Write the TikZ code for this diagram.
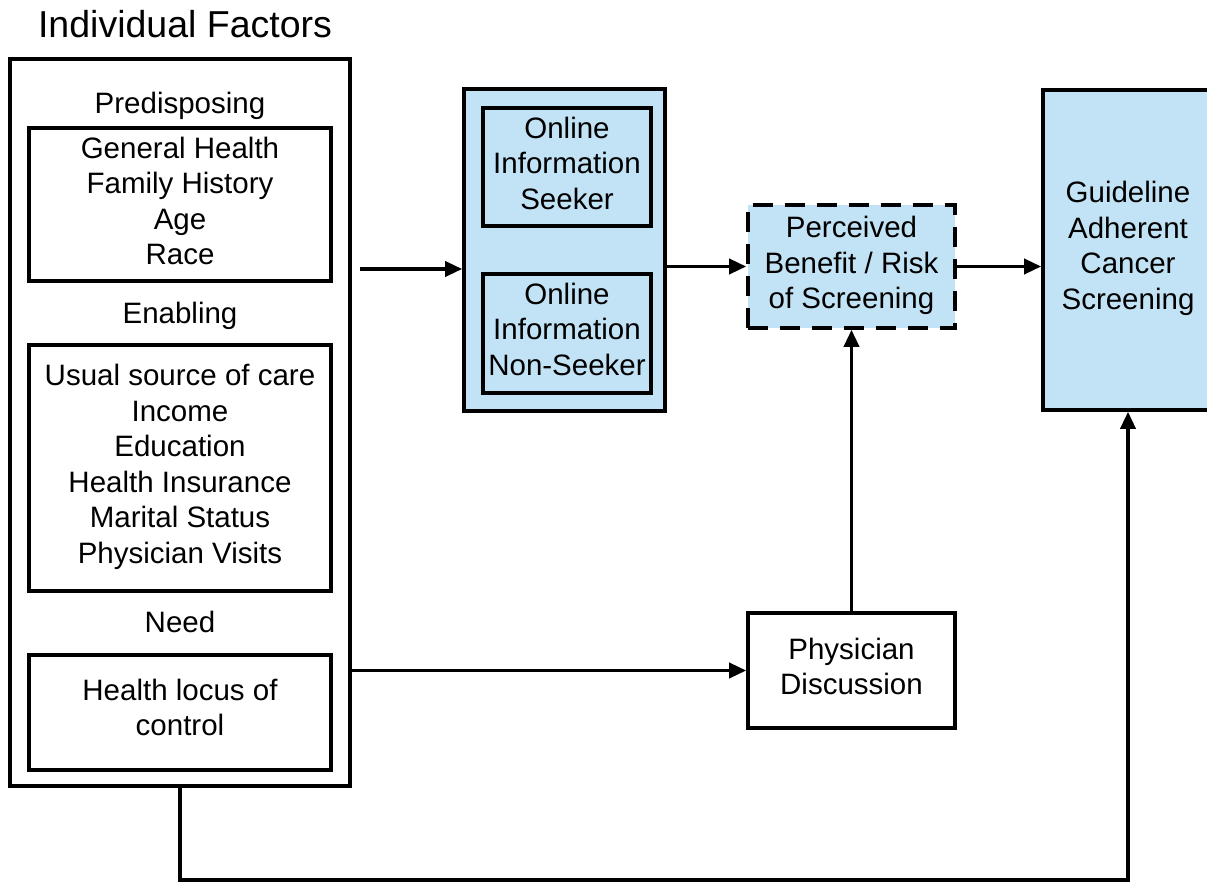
\documentclass[tikz,border=0pt]{standalone}
\usepackage{fontspec}
\setmainfont{Liberation Sans}
\usetikzlibrary{arrows.meta}
\definecolor{boxblue}{RGB}{194,227,245}
\begin{document}
\begin{tikzpicture}[x=1pt,y=-1pt,
  every node/.style={font=\fontsize{29.5pt}{35.5pt}\selectfont, align=center, inner sep=0pt},
  every label/.style={font=\fontsize{29.5pt}{35.5pt}\selectfont, align=center, inner sep=0pt},
  box/.style={draw, line width=3.6pt},
  bluebox/.style={box, fill=boxblue},
  lbl/.style={anchor=base},
  conn/.style={line width=3.6pt, -{Triangle[length=17pt,width=15pt]}}]
\useasboundingbox (0,0) rectangle (1207,882);
% title
\node[lbl, font=\fontsize{37.5pt}{45pt}\selectfont] (title) at (185,38) {Individual Factors};
% outer box
\node[box, minimum width=340pt, minimum height=727pt] (indiv) at (180,422.5) {};
\node[lbl] (pre) at (180,113.5) {Predisposing};
\node[box, minimum width=302pt, minimum height=153pt,
  label={[yshift=3.5pt]center:General Health\\Family History\\Age\\Race}] (b1) at (180,204.5) {};
\node[lbl] (ena) at (180,323.5) {Enabling};
\node[box, minimum width=302pt, minimum height=246pt,
  label={[yshift=1pt]center:Usual source of care\\Income\\Education\\Health Insurance\\Marital Status\\Physician Visits}] (b2) at (180,468) {};
\node[lbl] (need) at (180,632.5) {Need};
\node[box, minimum width=302pt, minimum height=115pt,
  label={[yshift=5pt]center:Health locus of\\control}] (b3) at (180,712.5) {};
% online info
\node[bluebox, minimum width=201pt, minimum height=322pt] (blue) at (564.5,250) {};
\node[bluebox, minimum width=168pt, minimum height=118pt,
  label={[yshift=4pt]center:Online\\Information\\Seeker}] (seek) at (567,167) {};
\node[bluebox, minimum width=168pt, minimum height=119pt,
  label={[yshift=4.5pt]center:Online\\Information\\Non-Seeker}] (nonseek) at (567,333.5) {};
% perceived
\node[bluebox, dash pattern=on 20pt off 12pt, minimum width=207pt, minimum height=123pt,
  label={[yshift=1pt]center:Perceived\\Benefit / Risk\\of Screening}] (perc) at (851.5,266.5) {};
% guideline
\node[bluebox, minimum width=170pt, minimum height=320pt,
  label={[yshift=1.5pt]center:Guideline\\Adherent\\Cancer\\Screening}] (guide) at (1128,250) {};
% physician
\node[box, minimum width=207pt, minimum height=115pt,
  label={[yshift=4pt]center:Physician\\Discussion}] (phys) at (851.5,670.5) {};
% connectors
\coordinate (a1s) at (360,269);
\draw[conn] (a1s) -- (a1s -| blue.west);
\draw[conn] (blue.east |- perc.west) -- (perc.west);
\draw[conn] (perc.east) -- (perc.east -| guide.west);
\draw[conn] (phys.north) -- (perc.south);
\draw[conn] (phys.west -| indiv.east) -- (phys.west);
\coordinate (low) at (180,880);
\draw[conn] (indiv.south) -- (low) -| (guide.south);
\end{tikzpicture}
\end{document}
